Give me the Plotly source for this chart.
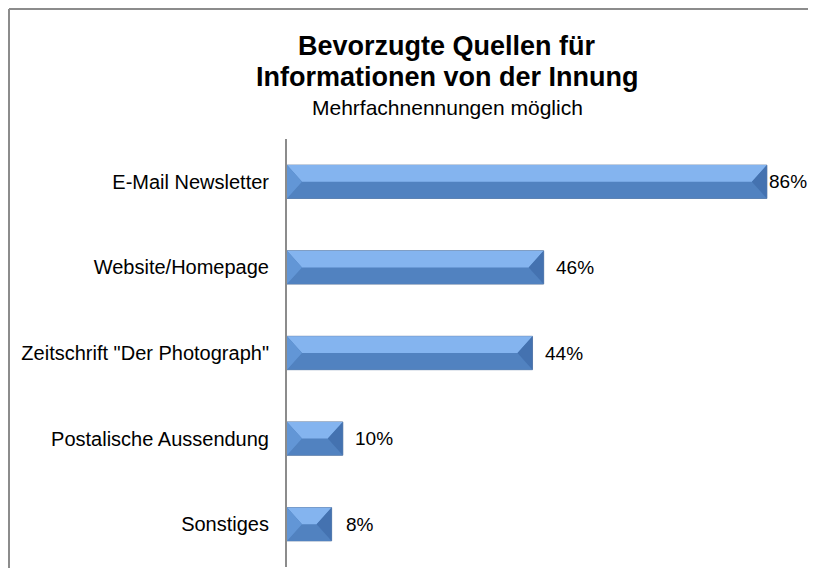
import plotly.graph_objects as go

categories = ["E-Mail Newsletter", "Website/Homepage", "Zeitschrift \"Der Photograph\"",
              "Postalische Aussendung", "Sonstiges"]
values = [86, 46, 44, 10, 8]
value_labels = ["86%", "46%", "44%", "10%", "8%"]
label_shift = [0, 10, 10, 10, 12]

title_line1 = "Bevorzugte Quellen für"
title_line2 = "Informationen von der Innung"
subtitle = "Mehrfachnennungen möglich"

FONT = "Liberation Sans, Arial, sans-serif"
# page has an 8px body margin; keep the figure small enough to avoid scrollbars
W, H = 800, 560
L, T, B = 279, 131, 1
plot_w = W - L
plot_h = H - T - B
px_per_unit = 5.58
x_max = plot_w / px_per_unit

idx = list(range(len(categories)))
half = 0.195                      # half bar thickness in category units
bevel = 15 / px_per_unit          # bevel depth in data units

fig = go.Figure()
fig.add_trace(go.Bar(
    y=idx, x=values, orientation="h", width=2 * half,
    marker=dict(color="#5081BF", line=dict(color="#6A84A8", width=1)),
    hoverinfo="skip", showlegend=False,
))

faces = {"top": [], "left": [], "right": [], "bottom": []}
for i, v in zip(idx, values):
    d = min(bevel, v / 2)
    top, mid, bot = i - half, i, i + half
    faces["top"].append(([0, v, v - d, d, 0], [top, top, mid, mid, top]))
    faces["bottom"].append(([0, v, v - d, d, 0], [bot, bot, mid, mid, bot]))
    faces["left"].append(([0, d, 0, 0], [top, mid, bot, top]))
    faces["right"].append(([v, v - d, v, v], [top, mid, bot, top]))

face_colors = {"bottom": "#5182C0", "top": "#84B4EF", "left": "#6296D6", "right": "#4472B0"}
for name in ["bottom", "top", "left", "right"]:
    xs, ys = [], []
    for px_, py_ in faces[name]:
        xs += px_ + [None]
        ys += py_ + [None]
    fig.add_trace(go.Scatter(
        x=xs, y=ys, mode="lines", fill="toself", fillcolor=face_colors[name],
        line=dict(width=0, color=face_colors[name]), hoverinfo="skip", showlegend=False,
    ))

annotations = []
for i, t, v, s in zip(idx, value_labels, values, label_shift):
    annotations.append(dict(
        x=v, y=i, xref="x", yref="y", text=t, showarrow=False,
        xanchor="left", yanchor="middle", xshift=s,
        font=dict(family=FONT, size=19, color="#000000"),
    ))

def py(yfig):
    return (H - B - yfig) / plot_h

def pxp(xfig):
    return (xfig - L) / plot_w

cx = pxp(439)
annotations += [
    dict(x=cx, y=py(38), xref="paper", yref="paper", text="<b>" + title_line1 + "</b>",
         showarrow=False, xanchor="center", yanchor="middle",
         font=dict(family=FONT, size=27, color="#000000")),
    dict(x=cx, y=py(69), xref="paper", yref="paper", text="<b>" + title_line2 + "</b>",
         showarrow=False, xanchor="center", yanchor="middle",
         font=dict(family=FONT, size=27, color="#000000")),
    dict(x=cx, y=py(100), xref="paper", yref="paper", text=subtitle,
         showarrow=False, xanchor="center", yanchor="middle",
         font=dict(family=FONT, size=21, color="#000000")),
]

frame = dict(color="#8C8C8C", width=2)
shapes = [
    dict(type="line", xref="paper", yref="paper", x0=pxp(1), x1=pxp(1),
         y0=py(H + 5), y1=py(1), line=frame, layer="below"),
    dict(type="line", xref="paper", yref="paper", x0=pxp(1), x1=pxp(W + 5),
         y0=py(1), y1=py(1), line=frame, layer="below"),
]

fig.update_layout(
    width=W, height=H,
    margin=dict(l=L, r=0, t=T, b=B, pad=0),
    paper_bgcolor="white", plot_bgcolor="white",
    barmode="overlay",
    xaxis=dict(range=[0, x_max], visible=False, fixedrange=True),
    yaxis=dict(range=[len(categories) - 0.5, -0.5], tickmode="array",
               tickvals=idx, ticktext=categories,
               showline=True, linecolor="#8C8C8C", linewidth=2,
               ticks="", showgrid=False, zeroline=False, ticklabelstandoff=12,
               tickfont=dict(family=FONT, size=20, color="#000000"), fixedrange=True),
    annotations=annotations,
    shapes=shapes,
    showlegend=False,
)

fig.write_html("out.html")
